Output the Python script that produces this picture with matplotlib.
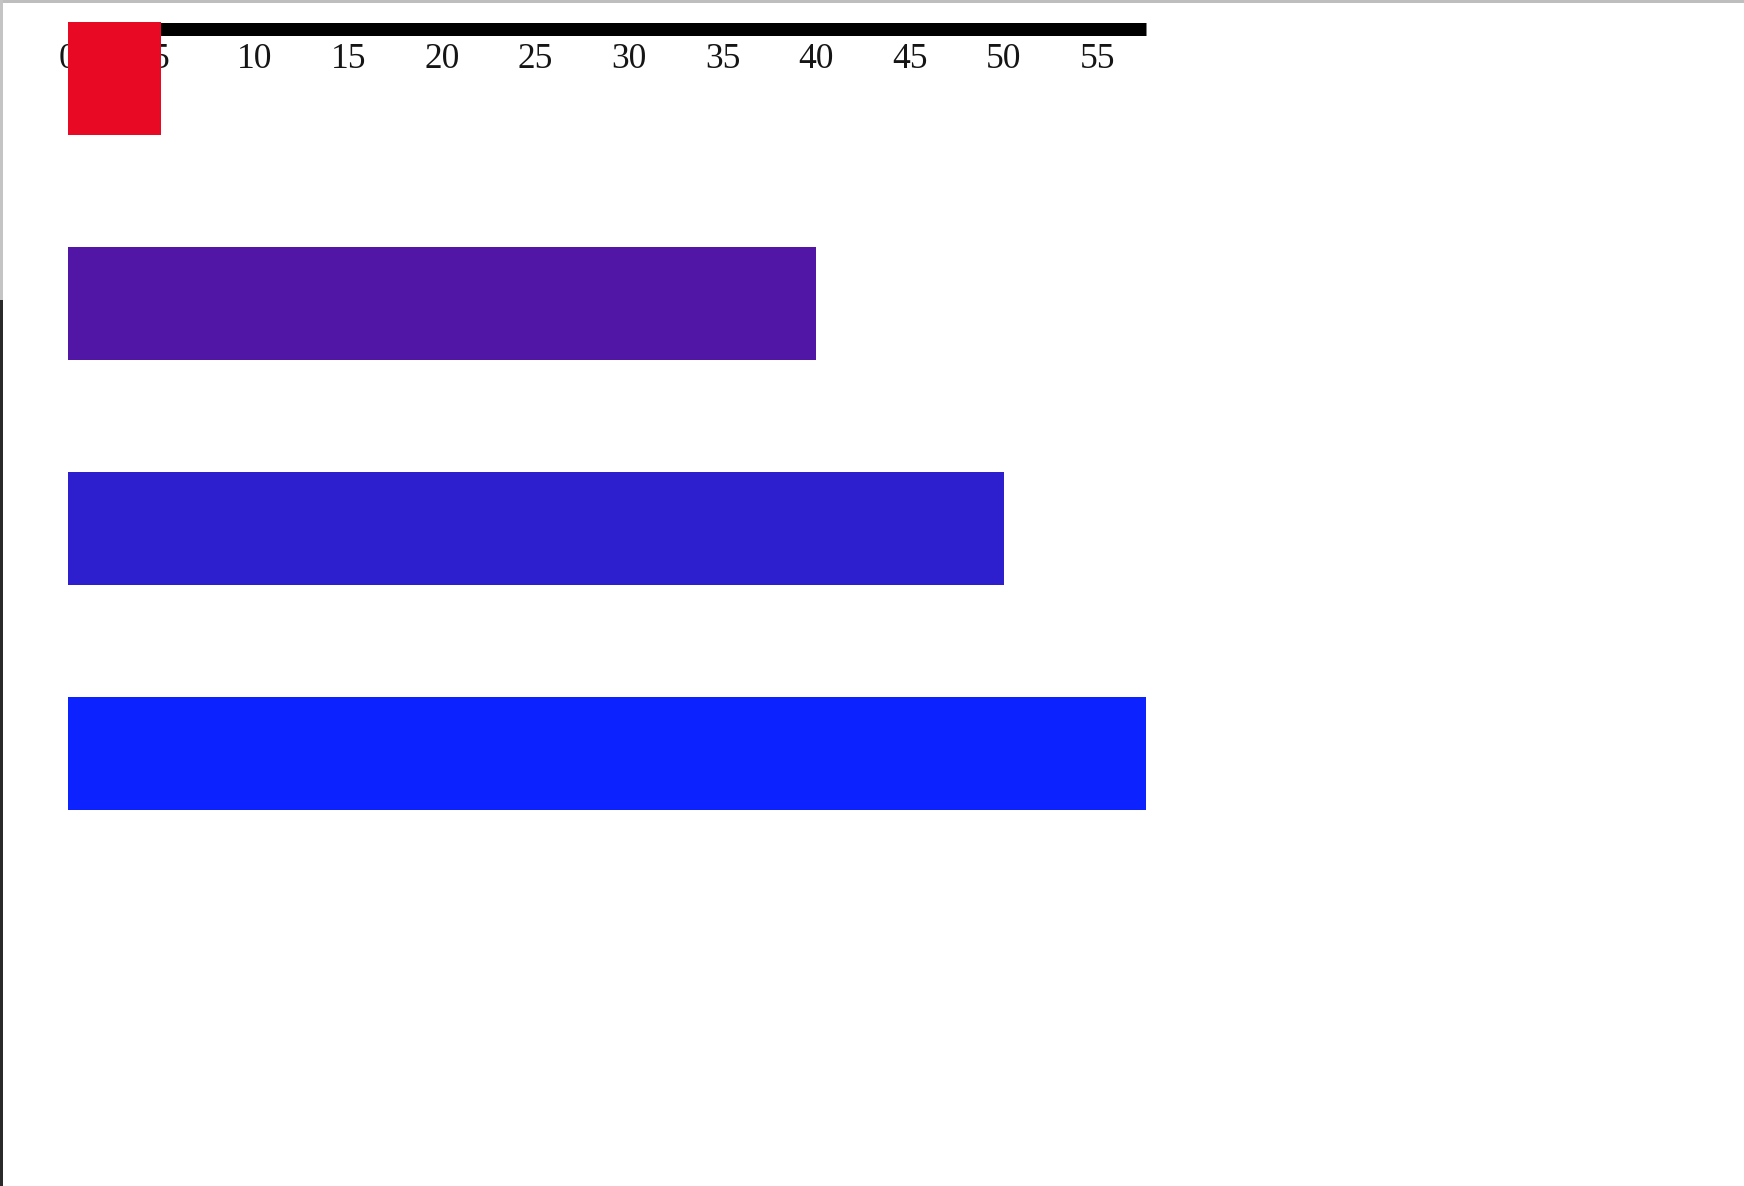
import matplotlib
matplotlib.use("Agg")
import matplotlib.pyplot as plt
from matplotlib.patches import Rectangle

# data
values = [5, 40, 50, 57.6]
bar_colors = ["#E80A24", "#5216A7", "#2D1ECE", "#0C22FE"]
tick_values = [0, 5, 10, 15, 20, 25, 30, 35, 40, 45, 50, 55]
x_max = 57.6

W, H = 1744, 1186
DPI = 100

# pixel layout (top-left origin)
left_px, right_px = 67.5, 1146
axis_px = 29.2          # centre of the thick axis line
first_center_px = 78.4  # centre of first bar
step_px = 225.0         # band step

fig = plt.figure(figsize=(W / DPI, H / DPI), dpi=DPI)
ax = fig.add_axes([left_px / W, 0, (right_px - left_px) / W, (H - axis_px) / H])

pos = list(range(len(values)))
ax.barh(pos, values, height=0.5, color=bar_colors, zorder=3, clip_on=False)

ax.set_xlim(0, x_max)
y_top = (axis_px - first_center_px) / step_px
y_bot = (H - first_center_px) / step_px
ax.set_ylim(y_bot, y_top)

for s in ["left", "right", "bottom"]:
    ax.spines[s].set_visible(False)
ax.spines["top"].set_linewidth(13 * 72 / DPI)
ax.spines["top"].set_capstyle("butt")
ax.spines["top"].set_color("black")

ax.set_yticks([])
ax.set_xticks(tick_values)
ax.set_xticklabels([str(v) for v in tick_values])
ax.tick_params(axis="x", top=True, labeltop=True, bottom=False, labelbottom=False,
               length=0, pad=-33.5, labelsize=25.5, labelcolor="#151515")
for lbl in ax.get_xticklabels(which="major"):
    lbl.set_fontfamily("Liberation Serif")
for t in ax.xaxis.get_major_ticks():
    t.label2.set_fontfamily("Liberation Serif")

# window border bits from the screenshot
fig.add_artist(Rectangle((0, 1 - 3 / H), 1, 3 / H, transform=fig.transFigure,
                         color="#BEBEBE", lw=0))
fig.add_artist(Rectangle((0, 0), 3 / W, 1 - 300 / H, transform=fig.transFigure,
                         color="#2A2A2A", lw=0))
fig.add_artist(Rectangle((0, 1 - 300 / H), 3 / W, 300 / H, transform=fig.transFigure,
                         color="#C4C4C4", lw=0))

fig.savefig("out.png", dpi=DPI)
